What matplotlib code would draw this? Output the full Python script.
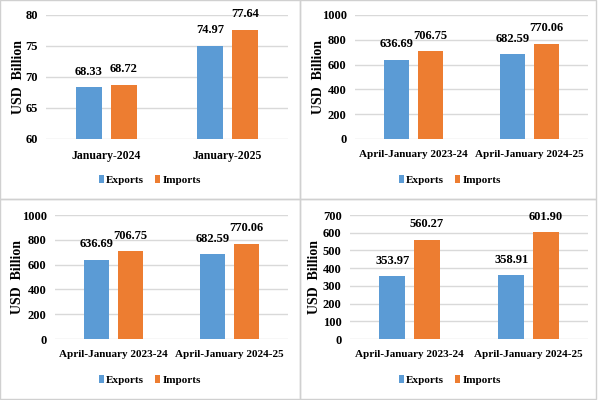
import numpy as np
import matplotlib.pyplot as plt
from matplotlib.patches import Rectangle

plt.rcParams['font.family'] = ['Liberation Serif', 'DejaVu Serif']
plt.rcParams['font.weight'] = 'bold'

series = ['Exports', 'Imports']
colors = ['#5B9BD5', '#ED7D31']

cats_month = ['January-2024', 'January-2025']
month_exp = [68.33, 74.97]
month_imp = [68.72, 77.64]

cats_cum = ['April-January 2023-24', 'April-January 2024-25']
cum_exp = [636.69, 682.59]
cum_imp = [706.75, 770.06]

cats_merch = ['April-January 2023-24', 'April-January 2024-25']
merch_exp = [353.97, 358.91]
merch_imp = [560.27, 601.90]

W, H = 600, 400
fig = plt.figure(figsize=(6, 4), dpi=100)


def px_axes(left, top, right, bottom):
    return fig.add_axes([left / W, 1 - bottom / H, (right - left) / W, (bottom - top) / H])


def panel(ax, cats, exp, imp, ylim, step, legend_x, legend_y, label_x, catsize=8):
    x = np.arange(len(cats))
    bw = 0.215
    off = 0.145
    for vals, dx, c, name in [(exp, -off, colors[0], series[0]), (imp, off, colors[1], series[1])]:
        bars = ax.bar(x + dx, vals, bw, color=c, label=name, zorder=3)
        for b, v in zip(bars, vals):
            ax.annotate(f'{v:.2f}', (b.get_x() + b.get_width() / 2, v),
                        xytext=(0, 7), textcoords='offset points',
                        ha='center', va='bottom', fontsize=9, fontweight='bold')
    ax.set_xlim(-0.5, len(cats) - 0.5)
    ax.set_ylim(*ylim)
    ax.set_yticks(np.arange(ylim[0], ylim[1] + step / 2, step))
    ax.set_xticks(x)
    ax.set_xticklabels(cats, fontsize=catsize)
    ax.tick_params(length=0, pad=6)
    ax.tick_params(axis='y', labelsize=9)
    ax.tick_params(axis='x', pad=8)
    for s in ax.spines.values():
        s.set_visible(False)
    ax.grid(axis='y', color='#D9D9D9', lw=1, zorder=0)
    ax.set_axisbelow(True)
    ax.set_ylabel('USD  Billion', fontsize=10, fontweight='bold', va='center')
    pos = ax.get_position()
    ax.yaxis.set_label_coords(label_x / W, pos.y0 + pos.height / 2, transform=fig.transFigure)
    ax.legend(loc='center', bbox_to_anchor=(legend_x / W, 1 - legend_y / H),
              bbox_transform=fig.transFigure, ncol=2, frameon=False,
              fontsize=8, handlelength=0.45, handleheight=0.8,
              handletextpad=0.2, columnspacing=1.0)


ax1 = px_axes(46, 15, 288, 139)
panel(ax1, cats_month, month_exp, month_imp, (60, 80), 5, 150, 180, 19, catsize=8.5)

ax2 = px_axes(355, 15, 588, 139)
panel(ax2, cats_cum, cum_exp, cum_imp, (0, 1000), 200, 450, 180, 318)

ax3 = px_axes(55, 215, 288, 339)
panel(ax3, cats_cum, cum_exp, cum_imp, (0, 1000), 200, 150, 380, 18)

ax4 = px_axes(350, 215, 588, 339)
panel(ax4, cats_merch, merch_exp, merch_imp, (0, 700), 100, 450, 380, 315)

for (l, t, r, b) in [(0, 0, 300, 199), (300, 0, 596, 199), (0, 199, 300, 399), (300, 199, 596, 399)]:
    fig.patches.append(Rectangle((l / W, 1 - b / H), (r - l) / W, (b - t) / H,
                                 transform=fig.transFigure, fill=False,
                                 edgecolor='#D0D0D0', lw=1))

fig.savefig('out.png', dpi=100)
